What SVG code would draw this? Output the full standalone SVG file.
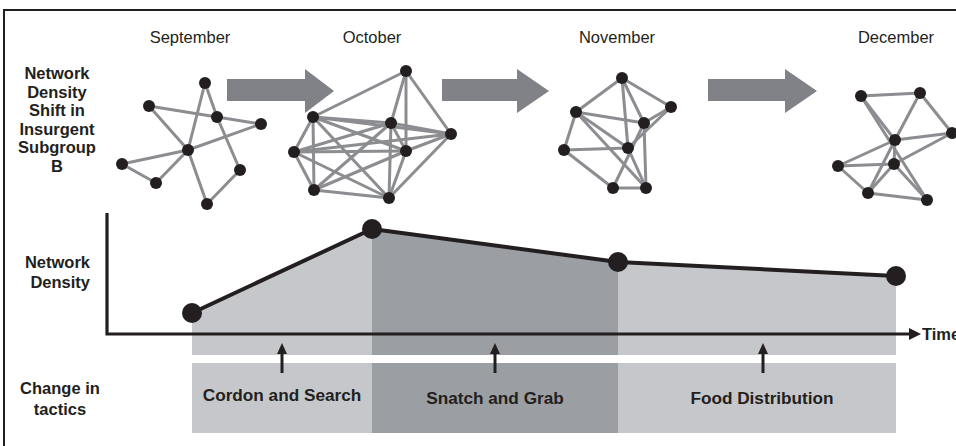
<svg xmlns="http://www.w3.org/2000/svg" width="956" height="446" viewBox="0 0 956 446">
<style>
.month{font-family:"Liberation Sans",Arial,sans-serif;font-size:16.5px;fill:#231f20;text-anchor:middle}
.lbl{font-family:"Liberation Sans",Arial,sans-serif;font-size:16.5px;font-weight:bold;fill:#231f20;text-anchor:middle}
.band{font-size:17.2px}
.e{stroke:#8c8d91;stroke-width:3;fill:none}
.n{fill:#231f20}
.bigarrow{fill:#808288}
.light{fill:#c6c7ca}
.dark{fill:#9b9ea3}
.axis{stroke:#231f20;stroke-width:3.2;fill:none}
</style>
<defs>
<circle id="nd" r="6" class="n"/>
<circle id="pt" r="10" class="n"/>
</defs>
<rect width="956" height="446" fill="#ffffff"/>
<g id="frame"><path d="M4,446 V10 H956" stroke="#231f20" stroke-width="2" fill="none"/></g>

<g id="months">
<text class="month" x="190" y="43">September</text>
<text class="month" x="372" y="43">October</text>
<text class="month" x="617" y="43">November</text>
<text class="month" x="896" y="43">December</text>
</g>

<g id="title-label">
<text class="lbl" x="57" y="79">Network</text>
<text class="lbl" x="57" y="97.5">Density</text>
<text class="lbl" x="57" y="116">Shift in</text>
<text class="lbl" x="57" y="134.5">Insurgent</text>
<text class="lbl" x="57" y="153">Subgroup</text>
<text class="lbl" x="57" y="171.5">B</text>
</g>

<g id="shift-arrows">
<polygon class="bigarrow" points="227,79 305,79 305,69 334,91 305,113 305,101 227,101"/>
<polygon class="bigarrow" points="442,79 517,79 517,69 549,91 517,113 517,101 442,101"/>
<polygon class="bigarrow" points="708,79 785,79 785,69 817,91 785,113 785,101 708,101"/>
</g>

<g id="net-september">
<g class="e">
<line x1="205" y1="83" x2="217" y2="117"/>
<line x1="205" y1="83" x2="188" y2="150"/>
<line x1="149" y1="106" x2="217" y2="117"/>
<line x1="217" y1="117" x2="261" y2="124"/>
<line x1="149" y1="106" x2="188" y2="150"/>
<line x1="188" y1="150" x2="261" y2="124"/>
<line x1="188" y1="150" x2="122" y2="164"/>
<line x1="122" y1="164" x2="156" y2="183"/>
<line x1="156" y1="183" x2="188" y2="150"/>
<line x1="188" y1="150" x2="207" y2="204"/>
<line x1="217" y1="117" x2="240" y2="170"/>
<line x1="240" y1="170" x2="207" y2="204"/>
</g>
<use href="#nd" x="205" y="83"/><use href="#nd" x="149" y="106"/><use href="#nd" x="217" y="117"/>
<use href="#nd" x="261" y="124"/><use href="#nd" x="188" y="150"/><use href="#nd" x="122" y="164"/>
<use href="#nd" x="156" y="183"/><use href="#nd" x="240" y="170"/><use href="#nd" x="207" y="204"/>
</g>

<g id="net-october">
<g class="e">
<line x1="406" y1="71" x2="313" y2="117"/>
<line x1="406" y1="71" x2="391" y2="123"/>
<line x1="406" y1="71" x2="451" y2="134"/>
<line x1="406" y1="71" x2="406" y2="151"/>
<line x1="313" y1="117" x2="391" y2="123"/>
<line x1="313" y1="117" x2="451" y2="134"/>
<line x1="313" y1="117" x2="294" y2="152"/>
<line x1="313" y1="117" x2="406" y2="151"/>
<line x1="313" y1="117" x2="314" y2="190"/>
<line x1="313" y1="117" x2="389" y2="198"/>
<line x1="391" y1="123" x2="451" y2="134"/>
<line x1="391" y1="123" x2="294" y2="152"/>
<line x1="391" y1="123" x2="314" y2="190"/>
<line x1="391" y1="123" x2="389" y2="198"/>
<line x1="391" y1="123" x2="406" y2="151"/>
<line x1="451" y1="134" x2="294" y2="152"/>
<line x1="451" y1="134" x2="406" y2="151"/>
<line x1="451" y1="134" x2="389" y2="198"/>
<line x1="294" y1="152" x2="406" y2="151"/>
<line x1="294" y1="152" x2="314" y2="190"/>
<line x1="294" y1="152" x2="389" y2="198"/>
<line x1="406" y1="151" x2="314" y2="190"/>
<line x1="406" y1="151" x2="389" y2="198"/>
<line x1="314" y1="190" x2="389" y2="198"/>
</g>
<use href="#nd" x="406" y="71"/><use href="#nd" x="313" y="117"/><use href="#nd" x="391" y="123"/>
<use href="#nd" x="451" y="134"/><use href="#nd" x="294" y="152"/><use href="#nd" x="406" y="151"/>
<use href="#nd" x="314" y="190"/><use href="#nd" x="389" y="198"/>
</g>

<g id="net-november">
<g class="e">
<line x1="622" y1="78" x2="576" y2="112"/>
<line x1="622" y1="78" x2="671" y2="107"/>
<line x1="622" y1="78" x2="644" y2="123"/>
<line x1="622" y1="78" x2="628" y2="148"/>
<line x1="576" y1="112" x2="644" y2="123"/>
<line x1="576" y1="112" x2="628" y2="148"/>
<line x1="576" y1="112" x2="646" y2="188"/>
<line x1="576" y1="112" x2="564" y2="150"/>
<line x1="671" y1="107" x2="644" y2="123"/>
<line x1="671" y1="107" x2="628" y2="148"/>
<line x1="644" y1="123" x2="613" y2="188"/>
<line x1="644" y1="123" x2="646" y2="188"/>
<line x1="564" y1="150" x2="628" y2="148"/>
<line x1="564" y1="150" x2="613" y2="188"/>
<line x1="628" y1="148" x2="646" y2="188"/>
<line x1="613" y1="188" x2="646" y2="188"/>
</g>
<use href="#nd" x="622" y="78"/><use href="#nd" x="576" y="112"/><use href="#nd" x="671" y="107"/>
<use href="#nd" x="644" y="123"/><use href="#nd" x="564" y="150"/><use href="#nd" x="628" y="148"/>
<use href="#nd" x="613" y="188"/><use href="#nd" x="646" y="188"/>
</g>

<g id="net-december">
<g class="e">
<line x1="861" y1="96" x2="920" y2="93"/>
<line x1="920" y1="93" x2="952" y2="133"/>
<line x1="920" y1="93" x2="895" y2="140"/>
<line x1="861" y1="96" x2="895" y2="140"/>
<line x1="861" y1="96" x2="927" y2="200"/>
<line x1="952" y1="133" x2="895" y2="140"/>
<line x1="952" y1="133" x2="894" y2="164"/>
<line x1="895" y1="140" x2="838" y2="166"/>
<line x1="895" y1="140" x2="868" y2="193"/>
<line x1="895" y1="140" x2="894" y2="164"/>
<line x1="838" y1="166" x2="894" y2="164"/>
<line x1="838" y1="166" x2="868" y2="193"/>
<line x1="894" y1="164" x2="868" y2="193"/>
<line x1="894" y1="164" x2="927" y2="200"/>
<line x1="868" y1="193" x2="927" y2="200"/>
</g>
<use href="#nd" x="861" y="96"/><use href="#nd" x="920" y="93"/><use href="#nd" x="952" y="133"/>
<use href="#nd" x="895" y="140"/><use href="#nd" x="838" y="166"/><use href="#nd" x="894" y="164"/>
<use href="#nd" x="868" y="193"/><use href="#nd" x="927" y="200"/>
</g>

<g id="density-areas">
<polygon class="light" points="192,313 372,229 372,355 192,355"/>
<polygon class="dark" points="372,229 618,262 618,355 372,355"/>
<polygon class="light" points="618,262 896,276 896,355 618,355"/>
</g>

<g id="tactic-bands">
<rect class="light" x="192" y="363" width="180" height="70"/>
<rect class="dark" x="372" y="363" width="246" height="70"/>
<rect class="light" x="618" y="363" width="278" height="70"/>
<text class="lbl band" x="282" y="401">Cordon and Search</text>
<text class="lbl band" x="495" y="404">Snatch and Grab</text>
<text class="lbl band" x="762" y="404">Food Distribution</text>
</g>

<g id="axis-labels">
<text class="lbl" x="90" y="268" style="text-anchor:end">Network</text>
<text class="lbl" x="90" y="288" style="text-anchor:end">Density</text>
<text class="lbl" x="60" y="394">Change in</text>
<text class="lbl" x="60" y="415">tactics</text>
<text class="lbl" x="922" y="340" style="text-anchor:start">Time</text>
</g>

<g id="connectors">
<path class="axis" d="M107,213 V334 H910"/>
<polygon points="909,328 921,334 909,340" fill="#231f20"/>
<polyline points="192,313 372,229 618,262 896,276" fill="none" stroke="#231f20" stroke-width="4" stroke-linejoin="round"/>
<g stroke="#231f20" stroke-width="3">
<line x1="282" y1="373" x2="282" y2="352"/>
<line x1="495" y1="373" x2="495" y2="352"/>
<line x1="763" y1="373" x2="763" y2="352"/>
</g>
<g fill="#231f20">
<polygon points="277,354 282,343 287,354"/>
<polygon points="490,354 495,343 500,354"/>
<polygon points="758,354 763,343 768,354"/>
</g>
</g>

<g id="density-points">
<use href="#pt" x="192" y="313"/>
<use href="#pt" x="372" y="229"/>
<use href="#pt" x="618" y="262"/>
<use href="#pt" x="896" y="276"/>
</g>
</svg>
